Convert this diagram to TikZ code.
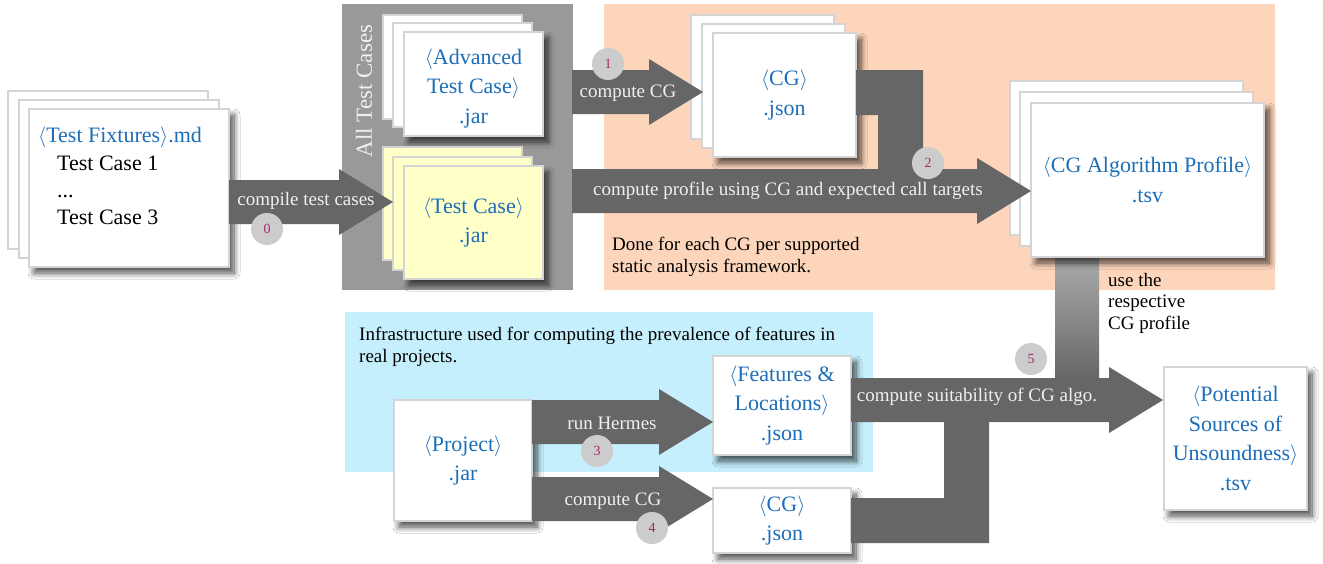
\documentclass[tikz,border=0pt]{standalone}
\usepackage{fontspec}
\setmainfont{Liberation Serif}
\usetikzlibrary{calc,shadows.blur}
\definecolor{txtblue}{RGB}{28,110,185}
\definecolor{boxline}{RGB}{212,212,212}
\definecolor{darrow}{RGB}{102,102,102}
\definecolor{lightbar}{RGB}{172,172,172}
\definecolor{panelgrey}{RGB}{153,153,153}
\definecolor{peach}{RGB}{253,213,187}
\definecolor{skyb}{RGB}{197,239,252}
\definecolor{paleyellow}{RGB}{255,255,200}
\definecolor{badgefill}{RGB}{204,204,204}
\definecolor{badgetxt}{RGB}{160,40,110}
\definecolor{lbl}{RGB}{240,240,240}
\newcommand\boxfont{\fontsize{22}{29.5}\selectfont}
\newcommand\lblfont{\fontsize{19}{22}\selectfont}
\newcommand\notefont{\fontsize{19}{21.5}\selectfont}
\newcommand\badgefont{\fontsize{14}{14}\selectfont}
\newcommand\fatarrow[2]{\fill[flow] let \p1=(#1), \p2=(#2) in
  (\x1,\y1+22pt) -- (\x2-54pt,\y1+22pt) -- (\x2-54pt,\y1+33pt) -- (\x2,\y1)
  -- (\x2-54pt,\y1-33pt) -- (\x2-54pt,\y1-22pt) -- (\x1,\y1-22pt) -- cycle;}
\tikzset{
  card/.style={draw=boxline, line width=2pt, fill=white, anchor=north west,
    inner sep=0pt, outer sep=0pt, text=txtblue, align=center, font=\boxfont},
  shadowed/.style={blur shadow={shadow xshift=5pt, shadow yshift=-6pt,
    shadow blur radius=6pt, shadow blur steps=10, shadow opacity=70}},
  flow/.style={fill=darrow},
  lab/.style={text=lbl, font=\lblfont, inner sep=0pt},
  badge/.style={circle, fill=badgefill, minimum size=32pt, inner sep=0pt,
    text=badgetxt, font=\badgefont},
  note/.style={font=\notefont, align=left, anchor=north west, inner sep=0pt, text=black},
  panel/.style={anchor=north west, inner sep=0pt, outer sep=0pt}
}
\begin{document}
\begin{tikzpicture}[x=1pt,y=-1pt]
\useasboundingbox (0,0) rectangle (1323,563);
\fill[white] (0,0) rectangle (1323,563);
% panels
\node[panel, fill=panelgrey, minimum width=231pt, minimum height=286pt] (atc) at (342,4) {};
\node[panel, fill=peach, minimum width=671pt, minimum height=286pt] (prof) at (604,4) {};
\node[panel, fill=skyb, minimum width=528pt, minimum height=160pt] (infra) at (345,312) {};
\node[rotate=90, text=lbl, font=\fontsize{23}{23}\selectfont, inner sep=0pt] (atclab) at (364,91) {All Test Cases};
\node[note] (donenote) at (612,237) {Done for each CG per supported\\static analysis framework.};
\node[note] (infranote) at (359,327) {Infrastructure used for computing the prevalence of features in\\real projects.};
\node[note] (usenote) at (1108,273) {use the\\respective\\CG profile};
% gradient bar
\shade[top color=lightbar, bottom color=darrow] (1055,255) rectangle (1099,380);
% fixtures stack
\node[card, minimum width=200pt, minimum height=158pt] (fxb) at (8,91) {};
\node[card, minimum width=200pt, minimum height=158pt] (fxm) at (19,100) {};
\node[card, shadowed, minimum width=200pt, minimum height=158pt] (fxf) at (29,109) {};
\node[anchor=base west, inner sep=0pt, text=txtblue, font=\boxfont] (fxt) at (38,142) {$\langle$Test Fixtures$\rangle$.md};
\node[anchor=base west, inner sep=0pt, font=\boxfont] (tc1) at (57,170) {Test Case 1};
\node[anchor=base west, inner sep=0pt, font=\boxfont] (tcd) at (57,197) {...};
\node[anchor=base west, inner sep=0pt, font=\boxfont] (tc3) at (57,224) {Test Case 3};
% advanced stack
\node[card, minimum width=139pt, minimum height=104pt] (advb) at (383,15) {};
\node[card, minimum width=139pt, minimum height=104pt] (advm) at (393,23) {};
\node[card, shadowed, minimum width=139pt, minimum height=104pt] (adv) at (404,32) {\rule{0pt}{24pt}$\langle$Advanced\\Test Case$\rangle$\\.jar};
% test case stack
\node[card, fill=paleyellow, minimum width=139pt, minimum height=113pt] (tcb) at (383,147) {};
\node[card, fill=paleyellow, minimum width=139pt, minimum height=113pt] (tcm) at (393,157) {};
\node[card, shadowed, fill=paleyellow, minimum width=139pt, minimum height=113pt] (tc) at (404,166) {$\langle$Test Case$\rangle$\\.jar};
% CG stack
\node[card, minimum width=143pt, minimum height=124pt] (cgb) at (691,15) {};
\node[card, minimum width=143pt, minimum height=124pt] (cgm) at (702,24) {};
\node[card, shadowed, minimum width=143pt, minimum height=124pt] (cg) at (713,33) {$\langle$CG$\rangle$\\.json};
% profile stack
\node[card, minimum width=233pt, minimum height=154pt] (pfb) at (1010,81) {};
\node[card, minimum width=233pt, minimum height=154pt] (pfm) at (1020,92) {};
\node[card, shadowed, minimum width=233pt, minimum height=154pt] (pf) at (1031,103) {$\langle$CG Algorithm Profile$\rangle$\\.tsv};
% lower boxes
\node[card, shadowed, minimum width=138pt, minimum height=121pt] (proj) at (394,400) {$\langle$Project$\rangle$\\.jar};
\node[card, shadowed, minimum width=138pt, minimum height=99pt] (feat) at (713,356) {$\langle$Features \&\\Locations$\rangle$\\.json};
\node[card, shadowed, minimum width=138pt, minimum height=65pt] (cg2) at (713,488) {$\langle$CG$\rangle$\\.json};
\node[card, shadowed, minimum width=143pt, minimum height=143pt] (pot) at (1164,367) {$\langle$Potential\\Sources of\\Unsoundness$\rangle$\\.tsv};
% connector coordinates
\coordinate (a0s) at (229,202); \coordinate (a0e) at (393,202);
\coordinate (a1s) at (572,92);  \coordinate (a1e) at (703,92);
\coordinate (a2s) at (572,191); \coordinate (a2e) at (1031,191);
\coordinate (a3s) at (532,422); \coordinate (a3e) at (713,422);
\coordinate (a4s) at (532,499); \coordinate (a4e) at (713,499);
\coordinate (a5s) at (851,400); \coordinate (a5e) at (1163,400);
% elbows
\fill[flow] (cg.east |- 0,70) -- (923,70) -- (923,175) -- (878,175) -- (878,115) -- (cg.east |- 0,115) -- cycle;
\fill[flow] (cg2.east |- 0,498) -- (944,498) -- (944,420) -- (989,420) -- (989,543) -- (cg2.east |- 0,543) -- cycle;
% arrows
\fatarrow{a0s}{a0e}
\fatarrow{a1s}{a1e}
\fatarrow{a2s}{a2e}
\fatarrow{a3s}{a3e}
\fatarrow{a4s}{a4e}
\fatarrow{a5s}{a5e}
% labels
\node[lab] (l0) at (306,201) {compile test cases};
\node[lab] (l1) at (628,93) {compute CG};
\node[lab] (l2) at (788,191) {compute profile using CG and expected call targets};
\node[lab] (l3) at (612,423) {run Hermes};
\node[lab] (l4) at (613,501) {compute CG};
\node[lab] (l5) at (977,397) {compute suitability of CG algo.};
% badges
\node[badge] (b0) at (267,229) {0};
\node[badge] (b1) at (608,64) {1};
\node[badge] (b2) at (928,163) {2};
\node[badge] (b3) at (597,451) {3};
\node[badge] (b4) at (652,528) {4};
\node[badge] (b5) at (1031,359) {5};
\end{tikzpicture}
\end{document}
